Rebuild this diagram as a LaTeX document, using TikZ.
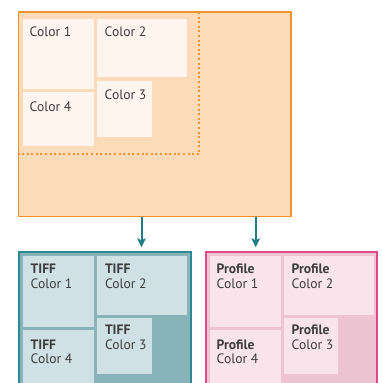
\documentclass[tikz,border=0pt]{standalone}
\usepackage{fontspec}
\setmainfont{PT Sans}
\usetikzlibrary{arrows.meta}
\definecolor{orgline}{HTML}{F0922E}
\definecolor{orgfill}{HTML}{FBDBB8}
\definecolor{orginner}{HTML}{FEF6EE}
\definecolor{tealline}{HTML}{2F8891}
\definecolor{tealfill}{HTML}{88B3B8}
\definecolor{tealinner}{HTML}{CFE1E4}
\definecolor{tealarrow}{HTML}{1F7D86}
\definecolor{pinkline}{HTML}{E2498D}
\definecolor{pinkfill}{HTML}{EEC3D2}
\definecolor{pinkinner}{HTML}{F9E4EC}
\definecolor{txt}{HTML}{3C3C3C}
\begin{document}
\begin{tikzpicture}[x=1pt,y=-1pt,
  box/.style={anchor=north west, inner sep=0pt, outer sep=0pt, rectangle},
  lbl/.style={anchor=base west, inner sep=0pt, outer sep=0pt, text=txt, font=\fontsize{13.6}{15}\selectfont},
  blbl/.style={lbl, font=\fontsize{13.6}{15}\selectfont\bfseries},
  arr/.style={draw=tealarrow, line width=2pt, -{Stealth[length=9pt,width=8.5pt,inset=2pt]}, shorten >=5pt}]
\useasboundingbox (0,0) rectangle (382,383);
\begin{scope}
\clip (0,0) rectangle (382,383);
% top source box
\node[box, draw=orgline, fill=orgfill, line width=1.5pt, minimum width=272.5pt, minimum height=204.5pt] (src) at (18.5,12) {};
\coordinate (dc) at (199,154.3);
\draw[orgline, line width=2pt, dash pattern=on 2pt off 2.6pt] (src.north -| dc) -- (dc) -- (dc -| src.west);
\node[box, fill=orginner, minimum width=71pt, minimum height=70.3pt] (s1) at (22.7,18.7) {};
\node[box, fill=orginner, minimum width=90pt, minimum height=58.6pt] (s2) at (97,18.7) {};
\node[box, fill=orginner, minimum width=71pt, minimum height=54pt] (s4) at (22.7,92) {};
\node[box, fill=orginner, minimum width=55pt, minimum height=56pt] (s3) at (97,80.7) {};
\node[lbl] (s1t) at (29.7,36) {Color 1};
\node[lbl] (s2t) at (104.7,36) {Color 2};
\node[lbl] (s4t) at (29.7,111.5) {Color 4};
\node[lbl] (s3t) at (104.7,99.3) {Color 3};
% teal TIFF box
\node[box, draw=tealline, fill=tealfill, line width=2pt, minimum width=172.3pt, minimum height=150pt] (tiff) at (18.7,252.3) {};
\node[box, fill=tealinner, minimum width=71pt, minimum height=71pt] (t1) at (22.7,255.7) {};
\node[box, fill=tealinner, minimum width=90.3pt, minimum height=59pt] (t2) at (97,255.7) {};
\node[box, fill=tealinner, minimum width=71pt, minimum height=80pt] (t4) at (22.7,329.7) {};
\node[box, fill=tealinner, minimum width=55pt, minimum height=56pt] (t3) at (97,318) {};
\node[blbl] (t1a) at (30.7,273.3) {TIFF};
\node[lbl] (t1b) at (30.7,288.3) {Color 1};
\node[blbl] (t2a) at (105,273.3) {TIFF};
\node[lbl] (t2b) at (105,288.3) {Color 2};
\node[blbl] (t3a) at (105,334) {TIFF};
\node[lbl] (t3b) at (105,349) {Color 3};
\node[blbl] (t4a) at (30.7,349) {TIFF};
\node[lbl] (t4b) at (30.7,363.5) {Color 4};
% pink Profile box
\node[box, draw=pinkline, fill=pinkfill, line width=2pt, minimum width=170.7pt, minimum height=150pt] (prof) at (206,252.3) {};
\node[box, fill=pinkinner, minimum width=70.7pt, minimum height=71pt] (p1) at (210.3,255.7) {};
\node[box, fill=pinkinner, minimum width=90pt, minimum height=59pt] (p2) at (284,255.7) {};
\node[box, fill=pinkinner, minimum width=70.7pt, minimum height=80pt] (p4) at (210.3,329.7) {};
\node[box, fill=pinkinner, minimum width=54pt, minimum height=56pt] (p3) at (284,318) {};
\node[blbl] (p1a) at (216.7,273.3) {Profile};
\node[lbl] (p1b) at (216.7,288.3) {Color 1};
\node[blbl] (p2a) at (291.7,273.3) {Profile};
\node[lbl] (p2b) at (291.7,288.3) {Color 2};
\node[blbl] (p3a) at (291.7,334) {Profile};
\node[lbl] (p3b) at (291.7,349) {Color 3};
\node[blbl] (p4a) at (216.7,349) {Profile};
\node[lbl] (p4b) at (216.7,363.5) {Color 4};
\end{scope}
% arrows
\coordinate (c1) at (141.5,0);
\coordinate (c2) at (255.7,0);
\draw[arr] (src.south -| c1) -- (tiff.north -| c1);
\draw[arr] (src.south -| c2) -- (prof.north -| c2);
\end{tikzpicture}
\end{document}
